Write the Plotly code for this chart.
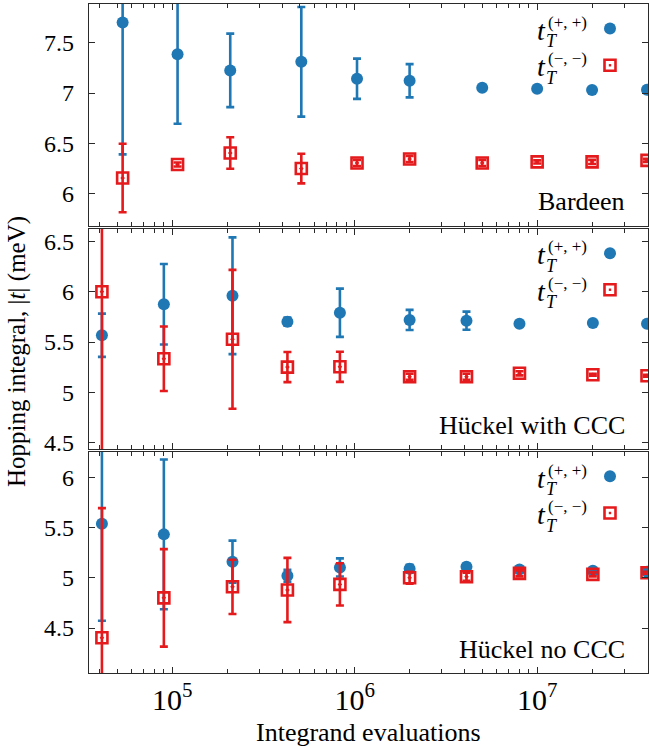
import plotly.graph_objects as go
from plotly.subplots import make_subplots
import math

# ---------------- data ----------------
# Panel 1: Bardeen
x_bardeen = [5.35e4, 1.07e5, 2.08e5, 5.1e5, 1.03e6, 2.0e6, 5.0e6, 1.0e7, 2.0e7, 4.0e7]
pp_bardeen = [7.70, 7.385, 7.225, 7.31, 7.142, 7.122, 7.052, 7.042, 7.029, 7.032]
pp_bardeen_err = [1.31, 0.69, 0.365, 0.545, 0.20, 0.165, 0.0, 0.0, 0.0, 0.0]
mm_bardeen = [6.155, 6.29, 6.404, 6.249, 6.305, 6.344, 6.305, 6.315, 6.315, 6.33]
mm_bardeen_err = [0.34, 0.02, 0.157, 0.147, 0.03, 0.03, 0.03, 0.015, 0.02, 0.015]

# Panel 2: Hückel with CCC
x_huckel = [4.12e4, 9.0e4, 2.14e5, 4.28e5, 8.3e5, 2.0e6, 4.1e6, 8.0e6, 2.02e7, 4.0e7]
pp_with = [5.567, 5.875, 5.96, 5.702, 5.791, 5.719, 5.712, 5.682, 5.689, 5.682]
pp_with_err = [0.215, 0.40, 0.58, 0.04, 0.24, 0.10, 0.09, 0.0, 0.0, 0.0]
mm_with = [6.0, 5.334, 5.527, 5.251, 5.254, 5.155, 5.155, 5.189, 5.175, 5.165]
mm_with_err = [1.7, 0.32, 0.69, 0.15, 0.15, 0.03, 0.03, 0.02, 0.01, 0.01]

# Panel 3: Hückel no CCC
pp_no = [5.537, 5.432, 5.16, 5.02, 5.103, 5.09, 5.11, 5.083, 5.07, 5.06]
pp_no_err = [0.965, 0.746, 0.21, 0.06, 0.09, 0.04, 0.03, 0.02, 0.0, 0.0]
mm_no = [4.403, 4.80, 4.91, 4.878, 4.934, 5.0, 5.01, 5.044, 5.034, 5.05]
mm_no_err = [1.29, 0.485, 0.27, 0.32, 0.21, 0.06, 0.04, 0.03, 0.02, 0.01]

panel_labels = ["Bardeen", "Hückel with CCC", "Hückel no CCC"]
y_ranges = [[5.678, 7.885], [4.437, 6.623], [4.052, 6.252]]
x_range = [3.5e4, 4.05e7]
series_names = ["(+, +)", "(−, −)"]
x_title = "Integrand evaluations"
y_title = "Hopping integral, |<i>t</i>| (meV)"

# ---------------- style ----------------
FONT = "Liberation Serif, Times New Roman, serif"
BLUE = "#1f77b4"
RED = "#e41a1c"
AX = "#2a2a2a"

panels = [
    (x_bardeen, pp_bardeen, pp_bardeen_err, mm_bardeen, mm_bardeen_err),
    (x_huckel, pp_with, pp_with_err, mm_with, mm_with_err),
    (x_huckel, pp_no, pp_no_err, mm_no, mm_no_err),
]

fig = make_subplots(rows=3, cols=1, shared_xaxes=True, vertical_spacing=0.005)

for i, (xs, pp, ppe, mm, mme) in enumerate(panels, start=1):
    fig.add_trace(go.Scatter(
        x=xs, y=pp, mode="markers", showlegend=False,
        marker=dict(symbol="circle", size=12, color=BLUE),
        error_y=dict(type="data", array=ppe, color=BLUE, thickness=2.6, width=4),
    ), row=i, col=1)
    fig.add_trace(go.Scatter(
        x=xs, y=mm, mode="markers", showlegend=False,
        marker=dict(symbol="square-open-dot", size=11, color=RED,
                    line=dict(color=RED, width=2.6)),
        error_y=dict(type="data", array=mme, color=RED, thickness=2.6, width=4),
    ), row=i, col=1)

# domains (pixel based: plot area 4..673, height 669)
H = 669.0
domains = [[(673 - 226) / H, 1.0],
           [(673 - 449) / H, (673 - 229) / H],
           [0.0, (673 - 452) / H]]

for i in range(1, 4):
    fig.update_yaxes(
        row=i, col=1, domain=domains[i - 1], range=y_ranges[i - 1],
        dtick=0.5, tick0=0, ticks="inside", ticklen=6, tickwidth=1.2, tickcolor=AX,
        showline=True, linecolor=AX, linewidth=1.3, mirror="allticks",
        showgrid=False, zeroline=False, ticklabelstandoff=9,
        tickfont=dict(family=FONT, size=24, color="black"),
    )
    fig.update_xaxes(
        row=i, col=1, type="log",
        range=[math.log10(x_range[0]), math.log10(x_range[1])],
        dtick=1, exponentformat="power", showexponent="all",
        ticks="inside", ticklen=6, tickwidth=1.2, tickcolor=AX,
        minor=dict(ticks="inside", ticklen=3.5, tickwidth=1, tickcolor=AX, dtick="D1",
                   showgrid=False),
        showline=True, linecolor=AX, linewidth=1.3, mirror="allticks",
        showgrid=False, zeroline=False, showticklabels=(i == 3),
        ticklabelstandoff=1,
        tickfont=dict(family=FONT, size=24, color="black"),
    )

annotations = []
shapes = []
PH = 221.0  # panel height in px
for i in range(1, 4):
    xr = "x domain" if i == 1 else f"x{i} domain"
    yr = "y domain" if i == 1 else f"y{i} domain"
    # panel label
    annotations.append(dict(
        text=panel_labels[i - 1], xref=xr, yref=yr, x=0.9624, y=1 - 197 / PH,
        xanchor="right", yanchor="middle", showarrow=False,
        font=dict(family=FONT, size=26, color="black"),
    ))
    # legend entries
    for k, (sup, off) in enumerate(zip(series_names, [0, 36.5])):
        annotations.append(dict(
            text="<i>t</i>", xref=xr, yref=yr, x=(541 - 89) / 559, y=1 - (26 + off) / PH,
            xanchor="center", yanchor="middle", showarrow=False,
            font=dict(family=FONT, size=28, color="black"),
        ))
        annotations.append(dict(
            text=sup, xref=xr, yref=yr, x=(546 - 89) / 559, y=1 - (18 + off) / PH,
            xanchor="left", yanchor="middle", showarrow=False,
            font=dict(family=FONT, size=17, color="black"),
        ))
        annotations.append(dict(
            text="<i>T</i>", xref=xr, yref=yr, x=(544 - 89) / 559, y=1 - (37 + off) / PH,
            xanchor="left", yanchor="middle", showarrow=False,
            font=dict(family=FONT, size=18, color="black"),
        ))
    lx = (610 - 89) / 559
    shapes.append(dict(
        type="circle", xref=xr, yref=yr, xsizemode="pixel", ysizemode="pixel",
        xanchor=lx, yanchor=1 - 24.3 / PH, x0=-6, x1=6, y0=-6, y1=6,
        fillcolor=BLUE, line=dict(width=0),
    ))
    shapes.append(dict(
        type="rect", xref=xr, yref=yr, xsizemode="pixel", ysizemode="pixel",
        xanchor=lx, yanchor=1 - 61 / PH, x0=-5.5, x1=5.5, y0=-5.5, y1=5.5,
        fillcolor="rgba(0,0,0,0)", line=dict(color=RED, width=2.6),
    ))
    shapes.append(dict(
        type="rect", xref=xr, yref=yr, xsizemode="pixel", ysizemode="pixel",
        xanchor=lx, yanchor=1 - 61 / PH, x0=-1.2, x1=1.2, y0=-1.2, y1=1.2,
        fillcolor=RED, line=dict(width=0),
    ))

# axis titles
annotations.append(dict(
    text=x_title, xref="paper", yref="paper", x=0.5, y=(673 - 732) / 669,
    xanchor="center", yanchor="middle", showarrow=False,
    font=dict(family=FONT, size=26, color="black"),
))
annotations.append(dict(
    text=y_title, xref="paper", yref="paper", x=(17 - 89) / 559, y=(673 - 352) / 669,
    xanchor="center", yanchor="middle", showarrow=False, textangle=-90,
    font=dict(family=FONT, size=25, color="black"),
))

fig.update_layout(
    width=649, height=748,
    margin=dict(l=89, r=1, t=4, b=75),
    paper_bgcolor="white", plot_bgcolor="white",
    showlegend=False,
    annotations=annotations, shapes=shapes,
    font=dict(family=FONT, color="black"),
)

fig.write_html("out.html")
